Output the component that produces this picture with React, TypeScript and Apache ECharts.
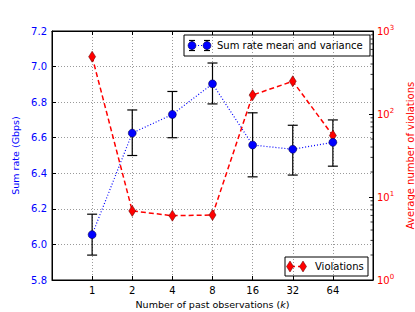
import { useEffect, useRef } from "react";
import * as echarts from "echarts";

const observationLabels = ["1", "2", "4", "8", "16", "32", "64"];
const sumRateMean = [6.055, 6.626, 6.731, 6.903, 6.559, 6.535, 6.574];
const sumRateLow = [5.94, 6.5, 6.6, 6.79, 6.38, 6.39, 6.44];
const sumRateHigh = [6.17, 6.756, 6.86, 7.02, 6.74, 6.67, 6.7];
const violations = [490, 6.8, 5.95, 6.07, 169, 248, 55];
const violationMinorTicks = [2, 3, 4, 5, 6, 7, 8, 9, 20, 30, 40, 50, 60, 70, 80, 90, 200, 300, 400, 500, 600, 700, 800, 900];

const FONT = "DejaVu Sans";
const BLUE = "#0000ff";
const RED = "#ff0000";

export default function App() {
  const ref = useRef<HTMLDivElement>(null);
  useEffect(() => {
    const chart = echarts.init(ref.current!, null, { renderer: "svg" });
    const gridLine = { show: true, lineStyle: { color: "#808080", width: 0.8, type: [1, 2] as any } };
    const diamond = (x: number, y: number) => ({
      type: "polygon",
      shape: { points: [[x, y - 5.5], [x + 3.5, y], [x, y + 5.5], [x - 3.5, y]] },
      style: { fill: RED, stroke: "#550000", lineWidth: 0.5 },
    });
    const errIcon = (x: number, y: number) => [
      { type: "line", shape: { x1: x, y1: y - 5, x2: x, y2: y + 5 }, style: { stroke: "#000", lineWidth: 1.2 } },
      { type: "line", shape: { x1: x - 3, y1: y - 5, x2: x + 3, y2: y - 5 }, style: { stroke: "#000", lineWidth: 1.2 } },
      { type: "line", shape: { x1: x - 3, y1: y + 5, x2: x + 3, y2: y + 5 }, style: { stroke: "#000", lineWidth: 1.2 } },
      { type: "circle", shape: { cx: x, cy: y, r: 4 }, style: { fill: BLUE, stroke: "#000033", lineWidth: 0.5 } },
    ];
    const option: any = {
      animation: false,
      textStyle: { fontFamily: FONT },
      grid: {
        left: 52,
        right: 42,
        top: 31,
        bottom: 32,
        show: true,
        borderColor: "#000",
        borderWidth: 1,
        containLabel: false,
        outerBoundsMode: "none",
      },
      xAxis: [
        {
          type: "value",
          min: -1,
          max: 7,
          interval: 1,
          position: "bottom",
          axisLine: { show: true, onZero: false, lineStyle: { color: "#000", width: 1 } },
          axisTick: { show: true, inside: true, length: 4, lineStyle: { color: "#000" } },
          axisLabel: {
            color: "#000",
            fontSize: 10,
            margin: 5,
            fontFamily: FONT,
            formatter: (v: number) => observationLabels[v] ?? "",
          },
          splitLine: gridLine,
          name: "{n|Number of past observations (}{k|k}{n|)}",
          nameLocation: "middle",
          nameGap: 15,
          nameTextStyle: {
            rich: {
              n: { fontSize: 9.5, color: "#000", fontFamily: FONT },
              k: { fontSize: 9.5, color: "#000", fontFamily: FONT, fontStyle: "italic" },
            },
          },
        },
        {
          type: "value",
          min: -1,
          max: 7,
          interval: 1,
          position: "top",
          axisLine: { show: true, onZero: false, lineStyle: { color: "#000", width: 1 } },
          axisTick: { show: true, inside: true, length: 4, lineStyle: { color: "#000" } },
          axisLabel: { show: false },
          splitLine: { show: false },
        },
      ],
      yAxis: [
        {
          type: "value",
          min: 5.8,
          max: 7.2,
          interval: 0.2,
          position: "left",
          axisLine: { show: true, onZero: false, lineStyle: { color: "#000", width: 1 } },
          axisTick: { show: true, inside: true, length: 4, lineStyle: { color: "#000" } },
          axisLabel: {
            color: BLUE,
            fontSize: 10,
            margin: 5,
            fontFamily: FONT,
            formatter: (v: number) => v.toFixed(1),
          },
          splitLine: gridLine,
          name: "Sum rate (Gbps)",
          nameLocation: "middle",
          nameGap: 18,
          nameTextStyle: { color: BLUE, fontSize: 9.5, fontFamily: FONT },
        },
        {
          type: "log",
          logBase: 10,
          min: 1,
          max: 1000,
          position: "right",
          axisLine: { show: true, onZero: false, lineStyle: { color: "#000", width: 1 } },
          axisTick: { show: true, inside: true, length: 4, lineStyle: { color: "#000" } },
          axisLabel: {
            color: RED,
            margin: 4,
            fontFamily: FONT,
            formatter: (v: number) => `{b|10}{s|${Math.round(Math.log10(v))}}`,
            rich: {
              b: { fontSize: 10, color: RED, fontFamily: FONT },
              s: { fontSize: 7, color: RED, fontFamily: FONT, padding: [0, 0, 7, 0] },
            },
          },
          splitLine: { show: false },
          name: "Average number of violations",
          nameLocation: "middle",
          nameGap: 17,
          nameRotate: 90,
          nameTextStyle: { color: RED, fontSize: 10, fontFamily: FONT },
        },
      ],
      series: [
        {
          type: "custom",
          xAxisIndex: 0,
          yAxisIndex: 0,
          z: 2,
          data: sumRateMean.map((_, i) => [i, sumRateLow[i], sumRateHigh[i]]),
          encode: { x: 0, y: [1, 2] },
          renderItem: (_p: any, api: any) => {
            const x = api.value(0);
            const lo = api.coord([x, api.value(1)]);
            const hi = api.coord([x, api.value(2)]);
            const h = 5;
            const st = { stroke: "#000", lineWidth: 1.2 };
            return {
              type: "group",
              children: [
                { type: "line", shape: { x1: lo[0], y1: lo[1], x2: hi[0], y2: hi[1] }, style: st },
                { type: "line", shape: { x1: lo[0] - h, y1: lo[1], x2: lo[0] + h, y2: lo[1] }, style: st },
                { type: "line", shape: { x1: hi[0] - h, y1: hi[1], x2: hi[0] + h, y2: hi[1] }, style: st },
              ],
            };
          },
        },
        {
          type: "line",
          name: "Violations",
          xAxisIndex: 0,
          yAxisIndex: 1,
          z: 3,
          data: violations.map((v, i) => [i, v]),
          symbol: "diamond",
          symbolSize: [7, 11],
          lineStyle: { color: RED, width: 1.5, type: [5, 3] },
          itemStyle: { color: RED, borderColor: "#550000", borderWidth: 0.5 },
        },
        {
          type: "line",
          name: "Sum rate mean and variance",
          xAxisIndex: 0,
          yAxisIndex: 0,
          z: 4,
          data: sumRateMean.map((v, i) => [i, v]),
          symbol: "circle",
          symbolSize: 8,
          lineStyle: { color: BLUE, width: 1.2, type: [1, 2] },
          itemStyle: { color: BLUE, borderColor: "#000033", borderWidth: 0.5 },
        },
        {
          type: "custom",
          xAxisIndex: 0,
          yAxisIndex: 1,
          z: 5,
          silent: true,
          data: violationMinorTicks.map((v) => [7, v]),
          encode: { x: 0, y: 1 },
          renderItem: (_p: any, api: any) => {
            const p = api.coord([api.value(0), api.value(1)]);
            return {
              type: "line",
              shape: { x1: p[0] - 2.5, y1: p[1], x2: p[0], y2: p[1] },
              style: { stroke: "#000", lineWidth: 0.8 },
            };
          },
        },
      ],
      graphic: [
        {
          type: "group",
          z: 100,
          children: [
            { type: "rect", shape: { x: 184, y: 35, width: 186, height: 21 }, style: { fill: "#fff", stroke: "#000", lineWidth: 1 } },
            { type: "line", shape: { x1: 192, y1: 45.5, x2: 207, y2: 45.5 }, style: { stroke: BLUE, lineWidth: 1.2, lineDash: [1, 2] } },
            ...errIcon(192, 45.5),
            ...errIcon(207, 45.5),
            { type: "text", style: { x: 217, y: 45.5, text: "Sum rate mean and variance", fill: "#000", font: `10px "${FONT}"`, verticalAlign: "middle" } },
            { type: "rect", shape: { x: 285, y: 257, width: 83, height: 19 }, style: { fill: "#fff", stroke: "#000", lineWidth: 1 } },
            { type: "line", shape: { x1: 290, y1: 266.5, x2: 303, y2: 266.5 }, style: { stroke: RED, lineWidth: 1.5, lineDash: [5, 3] } },
            diamond(290, 266.5),
            diamond(303, 266.5),
            { type: "text", style: { x: 315, y: 266.5, text: "Violations", fill: "#000", font: `10px "${FONT}"`, verticalAlign: "middle" } },
          ],
        },
      ],
    };
    chart.setOption(option);
    return () => chart.dispose();
  }, []);
  return <div ref={ref} style={{ position: "absolute", left: 0, top: 0, width: 415, height: 312 }} />;
}
